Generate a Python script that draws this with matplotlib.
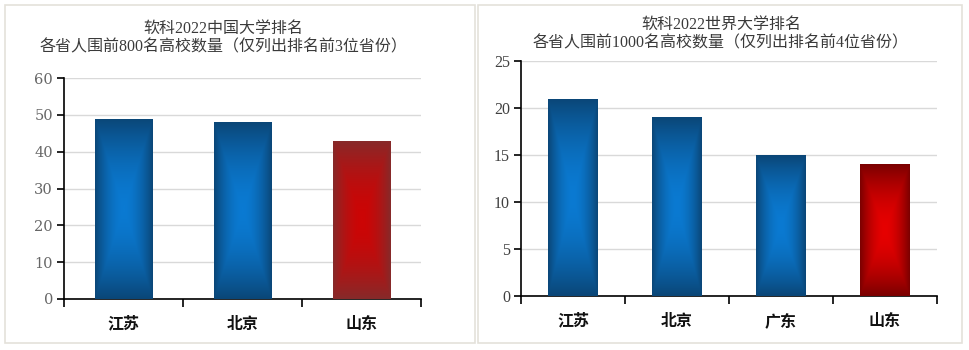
import numpy as np
import matplotlib.pyplot as plt
from matplotlib.patches import Rectangle
from matplotlib.colors import LinearSegmentedColormap

# Data
left_title = "软科2022中国大学排名\n各省人围前800名高校数量（仅列出排名前3位省份）"
left_cats = ["江苏", "北京", "山东"]
left_vals = [49, 48, 43]

right_title = "软科2022世界大学排名\n各省人围前1000名高校数量（仅列出排名前4位省份）"
right_cats = ["江苏", "北京", "广东", "山东"]
right_vals = [21, 19, 15, 14]

CJK = ['Noto Sans CJK SC', 'DejaVu Sans']
SERIF_CJK = ['Liberation Serif', 'Noto Sans CJK SC']

BLUE = ("#0a7ad2", "#0b4677")
RED_L = ("#cc0505", "#862a2a")
RED_R = ("#e60000", "#7a0000")


def gradient_fill(ax, bar, colors, n=200):
    # rectangular "path" gradient: bright centre, dark edges
    x, y = bar.get_x(), bar.get_y()
    w, h = bar.get_width(), bar.get_height()
    u = np.linspace(-1, 1, n)
    v = np.linspace(-1, 1, n)
    U, V = np.meshgrid(u, v)
    t = np.maximum(np.abs(U), np.abs(V)) ** 1.8
    cmap = LinearSegmentedColormap.from_list("g", list(colors))
    im = ax.imshow(t, cmap=cmap, vmin=0, vmax=1, extent=[x, x + w, y, y + h],
                   aspect='auto', origin='lower', zorder=3, interpolation='bilinear')
    im.set_clip_path(bar)


def draw_panel(ax, cats, vals, ymax, step, colors, tick_font, tick_color, tick_size):
    xs = np.arange(len(cats))
    bars = ax.bar(xs, vals, width=0.48, facecolor='none', edgecolor='none', zorder=3)
    for b, c in zip(bars, colors):
        gradient_fill(ax, b, c)
    ax.set_facecolor('none')
    ax.set_xlim(-0.5, len(cats) - 0.5)
    ax.set_ylim(0, ymax)
    ax.set_yticks(np.arange(0, ymax + 1, step))
    ax.set_xticks(np.arange(len(cats) + 1) - 0.5)
    ax.set_xticklabels([])
    ax.set_xticks(xs, minor=True)
    ax.set_xticklabels(cats, minor=True, family=CJK, fontsize=11.5,
                       color='#111111', weight='bold')
    ax.tick_params(axis='x', which='minor', length=0, pad=12)
    ax.tick_params(axis='x', which='major', length=6, width=1.2, direction='out')
    ax.tick_params(axis='y', length=5, width=1.2, direction='out', pad=3)
    for lab in ax.get_yticklabels():
        lab.set_family(tick_font)
        lab.set_color(tick_color)
        lab.set_fontsize(tick_size)
    ax.yaxis.grid(True, color='#d9d9d9', lw=1)
    ax.set_axisbelow(True)
    for s in ['top', 'right']:
        ax.spines[s].set_visible(False)
    for s in ['left', 'bottom']:
        ax.spines[s].set_linewidth(1.2)
        ax.spines[s].set_color('black')


fig = plt.figure(figsize=(9.69, 3.5), dpi=100)

# panel frames
for x0, x1 in [(5, 475), (478, 962)]:
    fig.patches.append(Rectangle((x0 / 969, 1 - 343 / 350), (x1 - x0) / 969, 338 / 350,
                                 transform=fig.transFigure, facecolor='white',
                                 edgecolor='#e4e1da', lw=1.2, zorder=-5))

ax1 = fig.add_axes([64 / 969, 1 - 299 / 350, (421 - 64) / 969, (299 - 78) / 350])
draw_panel(ax1, left_cats, left_vals, 60, 10, [BLUE, BLUE, RED_L],
           ['DejaVu Serif'], '#666666', 10.5)
fig.text(223 / 969, 1 - 38 / 350, left_title, ha='center', va='center',
         family=SERIF_CJK, fontsize=11.5, color='#3a3a3a', linespacing=1.2)

ax2 = fig.add_axes([521 / 969, 1 - 296 / 350, (937 - 521) / 969, (296 - 61) / 350])
draw_panel(ax2, right_cats, right_vals, 25, 5, [BLUE, BLUE, BLUE, RED_R],
           ['Liberation Serif'], '#404040', 11.5)
fig.text(721 / 969, 1 - 34 / 350, right_title, ha='center', va='center',
         family=SERIF_CJK, fontsize=11.5, color='#3a3a3a', linespacing=1.2)

fig.savefig('out.png', dpi=100)
